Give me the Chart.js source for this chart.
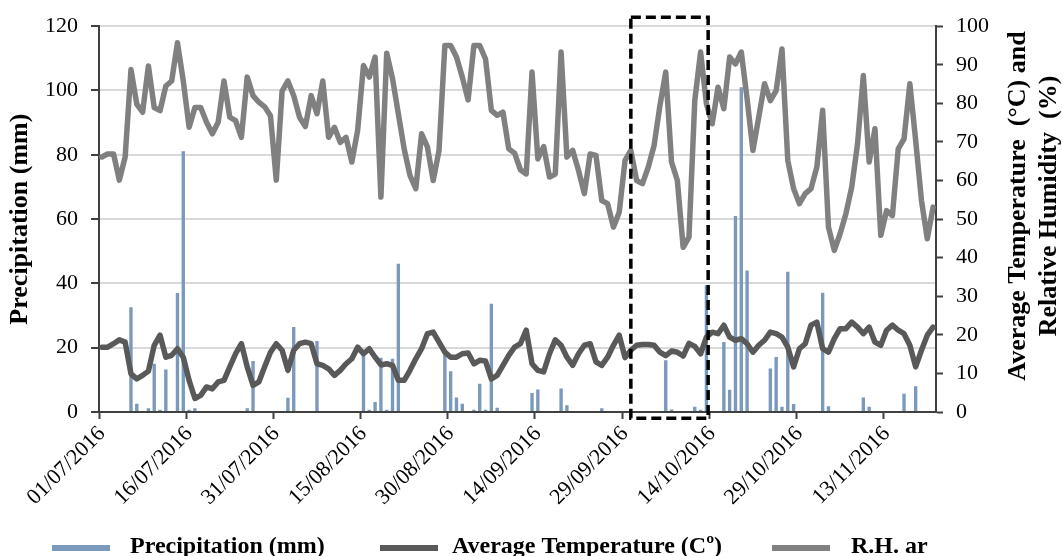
<!DOCTYPE html>
<html>
<head>
<meta charset="utf-8">
<script src="https://cdn.jsdelivr.net/npm/chart.js@4.4.0/dist/chart.umd.min.js"></script>
<style>
  html, body { margin: 0; padding: 0; background: #fff; }
</style>
</head>
<body>
<canvas id="chart" width="1063" height="556"></canvas>
<script>
// daily series, 01/07/2016 .. 21/11/2016
const START_DATE = '2016-07-01';
const DAY_COUNT = 144;
const TICK_LABELS = ['01/07/2016', '16/07/2016', '31/07/2016', '15/08/2016', '30/08/2016',
    '14/09/2016', '29/09/2016', '14/10/2016', '29/10/2016', '13/11/2016'];

const precipitation = [
    0, 0, 0, 0, 0, 32.6, 2.6, 0, 1.2, 15, 0.7, 13.2,
    0, 37, 81.1, 0.7, 1.2, 0, 0, 0, 0, 0, 0, 0,
    0, 1.2, 15.9, 0, 0, 0, 0, 0, 4.4, 26.4, 0, 0,
    0, 22.1, 0, 0, 0, 0, 0, 0, 0, 18.1, 0.7, 3.1,
    16.9, 0.7, 16.6, 46.1, 0, 0, 0, 0, 0, 0, 0, 18.7,
    12.7, 4.5, 2.6, 0, 0.7, 8.8, 0.7, 33.7, 1.3, 0, 0, 0,
    0, 0, 5.9, 7, 0, 0, 0, 7.3, 2.1, 0, 0, 0,
    0, 0, 1.2, 0, 0, 0, 0, 0, 0, 0, 0, 0,
    0, 16.1, 0.8, 0, 0, 0, 1.6, 0.7, 39.4, 0, 0, 21.8,
    6.9, 61, 101, 44, 0, 0, 0, 13.5, 17.1, 1.6, 43.6, 2.5,
    0, 0, 0, 0, 37.1, 1.8, 0, 0, 0, 0, 0, 4.5,
    1.6, 0, 0, 0, 0, 0, 5.7, 0, 8, 0, 0, 0
];

const avgTemperature = [
    16.8, 16.8, 17.7, 18.7, 18.1, 9.9, 8.6, 9.5, 10.6, 17.3, 19.9, 14.2,
    14.7, 16.4, 14.2, 8.2, 3.5, 4.3, 6.5, 6, 7.8, 8.2, 11.7, 15.1,
    17.7, 11.7, 6.9, 7.8, 11.7, 15.5, 17.7, 16, 10.8, 16, 17.7, 18.1,
    17.7, 12.5, 12.1, 11.2, 9.5, 10.8, 12.5, 13.8, 16.8, 15.1, 16.4, 14.2,
    12.2, 12.5, 12.1, 8.2, 8.2, 10.8, 13.8, 16.4, 20.3, 20.7, 18.1, 15.5,
    14.2, 14.2, 15.1, 15.3, 12.5, 13.4, 13.2, 8.6, 9.5, 12.1, 14.7, 16.8,
    17.7, 21.2, 12.5, 10.8, 10.4, 15.1, 18.7, 17.3, 14.2, 12.1, 15.1, 17.3,
    17.7, 13, 12.1, 14.2, 17.3, 19.9, 14.1, 16, 17.3, 17.5, 17.5, 17.3,
    15.5, 14.6, 15.8, 15.5, 14.5, 17.8, 17, 15.1, 19.4, 20.7, 20.3, 22.5,
    19.4, 18.6, 19, 17.7, 15.5, 17.3, 18.6, 20.7, 20.3, 19.4, 16.8, 11.7,
    16.4, 17.7, 22.5, 23.3, 16.4, 15.5, 19, 21.6, 21.6, 23.3, 22, 20.3,
    22, 18.1, 17.3, 21.2, 22.5, 21.2, 20.3, 17.3, 11.7, 16, 19.9, 22
];

const relHumidity = [
    66.1, 66.9, 66.9, 60.1, 66.1, 88.8, 79.8, 77.7, 89.7, 78.9, 78.1, 84.5,
    85.8, 95.7, 85.8, 73.8, 78.9, 78.9, 75.1, 72.1, 75.1, 85.8, 76.4, 75.5,
    71.2, 86.8, 82, 80.3, 79.1, 76.8, 60.1, 83.2, 85.8, 82, 76.4, 74,
    82, 77.3, 85.8, 71.2, 73.8, 69.9, 71.2, 64.8, 73, 89.8, 86.8, 92,
    55.7, 93, 86.4, 77.3, 68.2, 61.3, 57.9, 72.1, 68.7, 60, 67.8, 95,
    95, 92, 86.8, 80.9, 95, 95, 91.5, 78.2, 76.9, 77.7, 68.2, 67.1,
    62.8, 61.7, 88.1, 65.6, 68.8, 60.9, 61.7, 93.3, 66.1, 67.8, 62.6, 56.6,
    66.9, 66.5, 54.8, 54, 47.9, 51.8, 65.2, 67.8, 60, 59.2, 63.5, 69.1,
    79.4, 88.1, 64.8, 60, 42.7, 45.3, 80.7, 93.3, 79.9, 74.7, 84.2, 78.6,
    92, 90.2, 93.3, 81.2, 67.8, 76.4, 85.1, 80.7, 83.3, 94.1, 65.2, 57.9,
    54, 56.6, 57.9, 63.5, 78.2, 47.9, 41.9, 46.2, 51.4, 58.3, 69.5, 87.2,
    64.8, 73.4, 45.8, 52.2, 50.9, 68.2, 70.8, 85.1, 70.4, 54.8, 44.9, 53.1
];

const SERIES_NAMES = ['Precipitation (mm)', 'Average Temperature (C\u00ba)', 'R.H. ar'];
const RIGHT_TITLE = ['Average Temperature  (\u00b0C) and', 'Relative Humidity  (%)'];

const SERIF = "'Liberation Serif', 'Times New Roman', serif";
const AXIS = '#404040';
const GRID = '#d9d9d9';
const BAR_COLOR = '#7b99ba';
const TEMP_COLOR = '#595959';
const RH_COLOR = '#808080';

function dayLabels(start, count) {
    const out = [];
    const d = new Date(start + 'T00:00:00Z');
    for (let i = 0; i < count; i++) {
        const dd = String(d.getUTCDate()).padStart(2, '0');
        const mm = String(d.getUTCMonth() + 1).padStart(2, '0');
        out.push(`${dd}/${mm}/${d.getUTCFullYear()}`);
        d.setUTCDate(d.getUTCDate() + 1);
    }
    return out;
}
const days = dayLabels(START_DATE, DAY_COUNT);

// dashed box round the 30/09 - 13/10 period
const highlightBox = {
    id: 'highlightBox',
    afterDatasetsDraw(chart) {
        const x = chart.scales.x, y = chart.scales.y2;
        const x0 = x.getPixelForValue(91), x1 = x.getPixelForValue(104.3);
        const y0 = y.getPixelForValue(102.3), y1 = y.getPixelForValue(-1.6);
        const c = chart.ctx;
        c.save();
        c.strokeStyle = '#000';
        c.lineWidth = 3.5;
        c.setLineDash([10, 5]);
        c.strokeRect(x0, y0, x1 - x0, y1 - y0);
        c.restore();
    }
};

// right axis title reads bottom-to-top like the left one
const rightTitle = {
    id: 'rightTitle',
    afterDraw(chart) {
        const a = chart.chartArea;
        const c = chart.ctx;
        c.save();
        c.font = `bold 26px ${SERIF}`;
        c.fillStyle = '#000';
        c.textAlign = 'center';
        c.textBaseline = 'middle';
        RIGHT_TITLE.forEach((line, i) => {
            c.save();
            c.translate(a.right + 82 + i * 31, 206);
            c.rotate(-Math.PI / 2);
            c.fillText(line, 0, 0);
            c.restore();
        });
        c.restore();
    }
};

const bottomLegend = {
    id: 'bottomLegend',
    afterDraw(chart) {
        const c = chart.ctx;
        const items = [
            { x: 52, w: 58, tx: 130, color: BAR_COLOR },
            { x: 380, w: 58, tx: 452, color: TEMP_COLOR },
            { x: 772, w: 58, tx: 851, color: RH_COLOR }
        ];
        c.save();
        c.font = `bold 24px ${SERIF}`;
        c.textBaseline = 'middle';
        items.forEach((it, i) => {
            c.fillStyle = it.color;
            c.fillRect(it.x, 545, it.w, 6);
            c.fillStyle = '#000';
            c.fillText(SERIES_NAMES[i], it.tx, 547);
        });
        c.restore();
    }
};

new Chart(document.getElementById('chart'), {
    data: {
        labels: days,
        datasets: [
            {
                type: 'line',
                label: SERIES_NAMES[2],
                data: relHumidity,
                yAxisID: 'y2',
                borderColor: RH_COLOR,
                borderWidth: 5.5,
                pointRadius: 0,
                tension: 0,
                borderJoinStyle: 'round',
                borderCapStyle: 'round',
                order: 0
            },
            {
                type: 'line',
                label: SERIES_NAMES[1],
                data: avgTemperature,
                yAxisID: 'y2',
                borderColor: TEMP_COLOR,
                borderWidth: 5.5,
                pointRadius: 0,
                tension: 0,
                borderJoinStyle: 'round',
                borderCapStyle: 'round',
                order: 1
            },
            {
                type: 'bar',
                label: SERIES_NAMES[0],
                data: precipitation,
                yAxisID: 'y',
                backgroundColor: BAR_COLOR,
                barPercentage: 0.58,
                categoryPercentage: 1,
                order: 2
            }
        ]
    },
    options: {
        responsive: false,
        animation: false,
        layout: { padding: { top: 26, left: 0, right: 0, bottom: 0 } },
        plugins: {
            legend: { display: false },
            tooltip: { enabled: false }
        },
        scales: {
            x: {
                type: 'category',
                offset: true,
                grid: {
                    display: true,
                    drawOnChartArea: false,
                    offset: true,
                    tickLength: 7,
                    tickWidth: 2,
                    tickColor: c => TICK_LABELS.includes(days[c.index]) ? AXIS : 'rgba(0,0,0,0)'
                },
                border: { color: AXIS, width: 2 },
                ticks: {
                    autoSkip: false,
                    minRotation: 45,
                    maxRotation: 45,
                    padding: 2,
                    color: '#000',
                    font: { family: SERIF, size: 22 },
                    callback: (v, i) => TICK_LABELS.includes(days[i]) ? days[i] : ''
                },
                afterFit: s => { s.height = 144; }
            },
            y: {
                position: 'left',
                min: 0,
                max: 120,
                ticks: { stepSize: 20, padding: 13, color: '#000', font: { family: SERIF, size: 22 } },
                grid: { color: GRID, lineWidth: 2, tickLength: 8, tickColor: AXIS, tickWidth: 2 },
                border: { color: AXIS, width: 2 },
                title: {
                    display: true,
                    text: 'Precipitation (mm)',
                    color: '#000',
                    font: { family: SERIF, size: 26, weight: 'bold' },
                    padding: { top: 5, bottom: 0 }
                },
                afterFit: s => { s.width = 99; }
            },
            y2: {
                position: 'right',
                min: 0,
                max: 100,
                ticks: { stepSize: 10, padding: 13, color: '#000', font: { family: SERIF, size: 22 } },
                grid: { drawOnChartArea: false, tickLength: 7, tickColor: AXIS, tickWidth: 2 },
                border: { color: AXIS, width: 2 },
                afterFit: s => { s.width = 127; }
            }
        }
    },
    plugins: [highlightBox, rightTitle, bottomLegend]
});
</script>
</body>
</html>
